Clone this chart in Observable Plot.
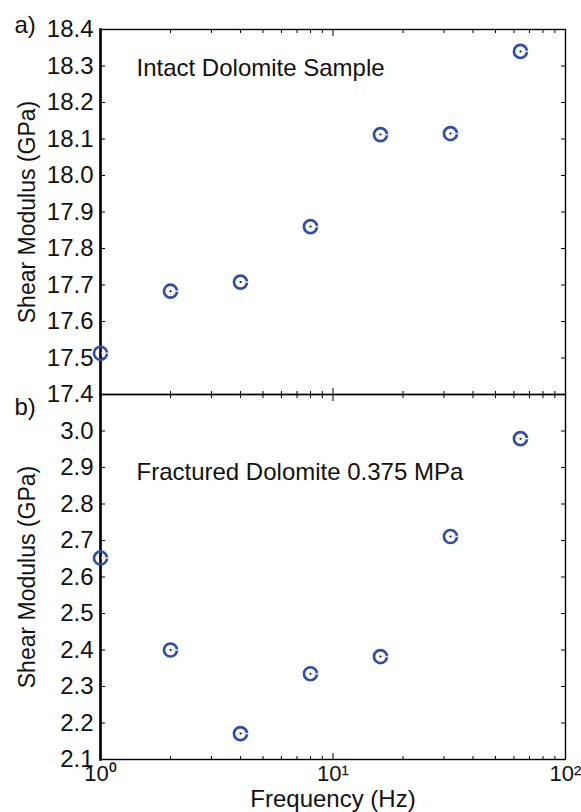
<!DOCTYPE html>
<html>
<head>
<meta charset="utf-8">
<script src="https://cdn.jsdelivr.net/npm/d3@7"></script>
<script src="https://cdn.jsdelivr.net/npm/@observablehq/plot@0.6"></script>
<style>
  html, body { margin: 0; padding: 0; background: #fff; }
  #chart { width: 581px; height: 812px; position: relative; }
  #chart svg { display: block; overflow: visible; }
</style>
</head>
<body>
<div id="chart"></div>
<script>
// ---- data ----
const freq = [1, 2, 4, 8, 16, 32, 64];
const intactModulus = [17.513, 17.683, 17.708, 17.860, 18.112, 18.115, 18.340];
const fracturedModulus = [2.652, 2.400, 2.171, 2.335, 2.382, 2.711, 2.979];
const topYTicks = [17.4, 17.5, 17.6, 17.7, 17.8, 17.9, 18.0, 18.1, 18.2, 18.3, 18.4];
const bottomYTicks = [2.1, 2.2, 2.3, 2.4, 2.5, 2.6, 2.7, 2.8, 2.9, 3.0];
const xMajorTicks = [1, 10, 100];
const xMajorLabels = ["10\u2070", "10\u00b9", "10\u00b2"];
const xMinorTicks = [2, 3, 4, 5, 6, 7, 8, 9, 20, 30, 40, 50, 60, 70, 80, 90];
const topTitle = "Intact Dolomite Sample";
const bottomTitle = "Fractured Dolomite 0.375 MPa";
const yLabel = "Shear Modulus (GPa)";
const xLabel = "Frequency (Hz)";

const intactData = freq.map((f, i) => ({f, v: intactModulus[i]}));
const fracturedData = freq.map((f, i) => ({f, v: fracturedModulus[i]}));

const FONT = "Liberation Sans, Arial, Helvetica, sans-serif";
const FS = 24;      // horizontal texts
const FSX = 22;     // x tick labels
const FSY = 23;     // rotated y-axis title
const BLUE = "#2f4ea6";
const W = 581;
const ML = 100, MR = 16;

// custom symbol: error-bar line through the marker, to the right
const barSymbol = {
  draw(ctx, size) {
    const r = Math.sqrt(size / Math.PI);
    ctx.moveTo(0, 0);
    ctx.lineTo(r + 1.5, 0);
  }
};

function markersFor(data) {
  return [
    Plot.dot(data, {x: "f", y: "v", r: 6.5, stroke: BLUE, strokeWidth: 2.7, fill: "none"}),
    Plot.dot(data, {x: "f", y: "v", r: 6.5, symbol: barSymbol, stroke: "#e2e4ee", strokeWidth: 1.5, fill: "none"}),
    Plot.dot(data, {x: "f", y: "v", r: 1, fill: "black", stroke: "none"})
  ];
}

function xTicksMarks(anchor, withLabels) {
  const marks = [
    Plot.axisX(xMinorTicks, {anchor, tickSize: -3, text: null, label: null, stroke: "black", strokeWidth: 1}),
    Plot.axisX(xMajorTicks, {anchor, tickSize: -6, text: null, label: null, stroke: "black", strokeWidth: 1})
  ];
  if (withLabels) {
    marks.push(Plot.axisX(xMajorTicks, {
      anchor, tickSize: 0, tickPadding: 6,
      tickFormat: (d) => xMajorLabels[xMajorTicks.indexOf(d)],
      fontSize: FSX, fill: "#111", label: null
    }));
    marks.push(Plot.axisX(xMajorTicks, {
      anchor, tickSize: 0, text: null, stroke: "none",
      label: xLabel, labelAnchor: "center", labelArrow: "none", labelOffset: 47,
      fontSize: FS, fill: "#111"
    }));
  }
  return marks;
}

function yTicksMarks(ticks) {
  return [
    Plot.axisY(ticks, {anchor: "left", tickSize: -5, text: null, label: null, stroke: "black"}),
    Plot.axisY(ticks, {anchor: "right", tickSize: -5, text: null, label: null, stroke: "black"}),
    Plot.axisY(ticks, {
      anchor: "left", tickSize: 0, tickPadding: 7,
      tickFormat: (d) => d.toFixed(1),
      fontSize: FS, fill: "#111", label: null
    }),
    Plot.axisY(ticks, {
      anchor: "left", tickSize: 0, text: null, stroke: "none",
      label: yLabel, labelAnchor: "center", labelArrow: "none", labelOffset: 82,
      fontSize: FSY, fill: "#111"
    })
  ];
}

// ---- top panel ----
const topPanel = Plot.plot({
  width: W, height: 394,
  marginLeft: ML, marginRight: MR, marginTop: 29, marginBottom: 0,
  style: {fontFamily: FONT, fontSize: FS + "px", color: "#111", background: "white", overflow: "visible"},
  x: {type: "log", domain: [1, 100], axis: null},
  y: {domain: [17.4, 18.4], axis: null},
  marks: [
    ...xTicksMarks("top", false),
    ...xTicksMarks("bottom", false),
    ...yTicksMarks(topYTicks),
    Plot.frame({stroke: "black", strokeWidth: 1.4}),
    Plot.frame({anchor: "left", stroke: "black", strokeWidth: 2.6}),
    Plot.text([topTitle], {frameAnchor: "top-left", dx: 36, dy: 39, textAnchor: "start", lineAnchor: "middle", fontSize: FS, fill: "#111"}),
    Plot.text(["a)"], {frameAnchor: "top-left", dx: -86, dy: -4, textAnchor: "start", lineAnchor: "middle", fontSize: FS, fill: "#111"}),
    ...markersFor(intactData)
  ]
});

// ---- bottom panel ----
const bottomPanel = Plot.plot({
  width: W, height: 418,
  marginLeft: ML, marginRight: MR, marginTop: 0, marginBottom: 53,
  style: {fontFamily: FONT, fontSize: FS + "px", color: "#111", background: "transparent", overflow: "visible"},
  x: {type: "log", domain: [1, 100], axis: null},
  y: {domain: [2.1, 3.1], axis: null},
  marks: [
    ...xTicksMarks("top", false),
    ...xTicksMarks("bottom", true),
    ...yTicksMarks(bottomYTicks),
    Plot.frame({stroke: "black", strokeWidth: 1.4}),
    Plot.frame({anchor: "left", stroke: "black", strokeWidth: 2.6}),
    Plot.text([bottomTitle], {frameAnchor: "top-left", dx: 36, dy: 78, textAnchor: "start", lineAnchor: "middle", fontSize: FS, fill: "#111"}),
    Plot.text(["b)"], {frameAnchor: "top-left", dx: -86, dy: 13, textAnchor: "start", lineAnchor: "middle", fontSize: FS, fill: "#111"}),
    ...markersFor(fracturedData)
  ]
});

const chart = document.getElementById("chart");
chart.appendChild(topPanel);
chart.appendChild(bottomPanel);
</script>
</body>
</html>
